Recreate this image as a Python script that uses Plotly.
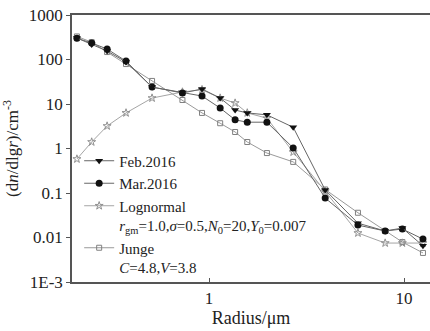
import plotly.graph_objects as go

# Particle radius (µm) and number size distributions dn/dlgr (cm^-3)
radius = [0.21, 0.25, 0.30, 0.375, 0.51, 0.73, 0.92, 1.14, 1.36, 1.57,
          1.98, 2.70, 3.94, 5.8, 8.0, 9.8, 12.5]
feb_2016 = [304, 218, 155, 88, 24, 17.7, 21.7, 13.6, 7.3, 6.3,
            5.7, 3.0, 0.117, 0.021, 0.014, 0.0163, 0.0065]
mar_2016 = [300, 235, 172, 92, 24, 17.7, 15.1, 8.1, 4.4, 3.9,
            3.9, 1.03, 0.077, 0.019, 0.014, 0.0155, 0.0092]
lognormal = [0.58, 1.4, 3.2, 6.3, 13.6, 18.6, 21.0, 13.6, 10.5, 6.3,
             4.8, 0.83, 0.11, 0.0126, 0.0075, 0.0075, 0.0075]
junge = [330, 245, 147, 79, 33, 12.3, 6.3, 3.7, 2.35, 1.4,
         0.79, 0.50, 0.12, 0.036, 0.014, 0.0079, 0.0045]

y_tickvals = [1e3, 1e2, 1e1, 1, 0.1, 0.01, 1e-3]
y_ticktext = ["1000", "100", "10", "1", "0.1", "0.01", "1E-3"]
x_tickvals = [1, 10]
x_ticktext = ["1", "10"]

FONT = "'Liberation Serif', 'Times New Roman', Times, serif"

fig = go.Figure()

fig.add_trace(go.Scatter(
    x=radius, y=junge, mode="lines+markers",
    name="Junge<br><i>C</i>=4.8,<i>V</i>=3.8", legendrank=4,
    line=dict(color="#9a9a9a", width=1),
    marker=dict(symbol="square-open", size=5, color="#808080",
                line=dict(width=1))))
fig.add_trace(go.Scatter(
    x=radius, y=lognormal, mode="lines+markers",
    name="Lognormal<br><i>r</i><sub>gm</sub>=1.0,<i>σ</i>=0.5,"
         "<i>N</i><sub>0</sub>=20,<i>Y</i><sub>0</sub>=0.007",
    legendrank=3,
    line=dict(color="#a5a5a5", width=1),
    marker=dict(symbol="star-open", size=6, color="#909090",
                line=dict(width=1))))
fig.add_trace(go.Scatter(
    x=radius, y=mar_2016, mode="lines+markers",
    name="Mar.2016", legendrank=2,
    line=dict(color="#666666", width=1),
    marker=dict(symbol="circle", size=7, color="#111111")))
fig.add_trace(go.Scatter(
    x=radius, y=feb_2016, mode="lines+markers",
    name="Feb.2016", legendrank=1,
    line=dict(color="#666666", width=1),
    marker=dict(symbol="triangle-down", size=7, color="#111111")))

fig.update_layout(
    width=430, height=331,
    margin=dict(l=72, r=0, t=15, b=49),
    paper_bgcolor="white", plot_bgcolor="white",
    font=dict(family=FONT, size=16, color="#222222"),
    showlegend=True,
    legend=dict(x=0.02, y=0.515, xanchor="left", yanchor="top",
                bgcolor="rgba(0,0,0,0)", valign="top",
                font=dict(family=FONT, size=15, color="#222222"),
                itemwidth=30, tracegroupgap=0),
)

fig.update_xaxes(
    type="log", range=[-0.703, 1.133],
    tickvals=x_tickvals, ticktext=x_ticktext,
    ticks="inside", ticklen=4, tickcolor="#555555",
    showline=True, linecolor="#555555", linewidth=1.5, mirror=True,
    showgrid=False, zeroline=False,
    tickfont=dict(family=FONT, size=17),
    title=dict(text="Radius/μm", font=dict(family=FONT, size=18), standoff=4),
)
fig.update_yaxes(
    type="log", range=[-3, 3],
    tickvals=y_tickvals, ticktext=y_ticktext,
    ticks="outside", ticklen=4, tickcolor="#555555",
    showline=True, linecolor="#555555", linewidth=1.5,
    showgrid=False, zeroline=False,
    tickfont=dict(family=FONT, size=17),
    title=dict(text="(d<i>n</i>/dlg<i>r</i>)/cm<sup>-3</sup>",
               font=dict(family=FONT, size=17), standoff=6),
)

fig.write_html("out.html")
